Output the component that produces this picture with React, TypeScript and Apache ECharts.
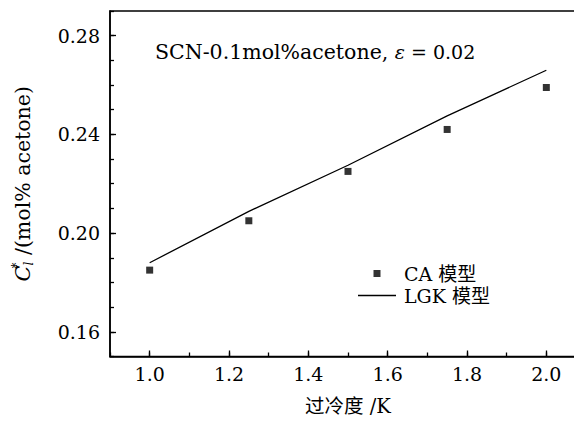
import React, { useEffect, useRef } from 'react';
import * as echarts from 'echarts';

const FONT = "'DejaVu Serif', 'Noto Sans CJK SC', serif";

// CA model points
const caX = [1.0, 1.25, 1.5, 1.75, 2.0];
const caY = [0.185, 0.205, 0.225, 0.242, 0.259];
// LGK model line
const lgkX = [1.0, 1.25, 1.5, 1.75, 2.0];
const lgkY = [0.188, 0.2088, 0.2275, 0.2475, 0.266];

const xTickLabels = ['1.0', '1.2', '1.4', '1.6', '1.8', '2.0'];
const yTickLabels = ['0.16', '0.20', '0.24', '0.28'];
const xTickSlots = ['0.9', '1.0', '1.1', '1.2', '1.3', '1.4', '1.5', '1.6', '1.7', '1.8', '1.9', '2.0', '2.1'];
const yTickSlots = ['0.15', '0.16', '0.17', '0.18', '0.19', '0.20', '0.21', '0.22', '0.23', '0.24', '0.25', '0.26', '0.27', '0.28', '0.29'];

export default function App() {
  const ref = useRef<HTMLDivElement>(null);
  useEffect(() => {
    const chart = echarts.init(ref.current!, null, { renderer: 'svg' });
    const axisLineStyle = { color: '#000', width: 1.5 };
    const tickStyle = { color: '#000', width: 1.3 };
    const option = {
      animation: false,
      backgroundColor: '#fff',
      title: {
        text: '{a|SCN-0.1mol%acetone, }{e|ε}{b| = 0.02}',
        left: 155,
        top: 42,
        padding: 0,
        textStyle: {
          fontFamily: FONT,
          fontSize: 20,
          fontWeight: 'normal',
          color: '#000',
          rich: {
            a: { fontFamily: FONT, fontSize: 20.5, color: '#000' },
            e: { fontFamily: FONT, fontSize: 19, color: '#000', fontStyle: 'italic' },
            b: { fontFamily: FONT, fontSize: 19, color: '#000' },
          },
        },
      },
      grid: {
        left: 110,
        top: 11,
        width: 476,
        height: 350,
        show: true,
        borderColor: '#000',
        borderWidth: 1.5,
        backgroundColor: 'transparent',
      },
      legend: {
        orient: 'vertical',
        left: 353,
        top: 259,
        itemWidth: 38,
        itemHeight: 7,
        itemGap: 3,
        symbolKeepAspect: true,
        textStyle: { fontFamily: FONT, fontSize: 19, color: '#000', padding: [0, 0, 0, 3] },
        data: [
          { name: 'CA 模型', icon: 'path://M0 0H10V10H0Z' },
          { name: 'LGK 模型', icon: 'path://M0 0H38V1.3H0Z' },
        ],
      },
      xAxis: [
        {
          type: 'value',
          min: 0.9,
          max: 2.1,
          interval: 0.1,
          axisLine: { show: true, onZero: false, lineStyle: axisLineStyle },
          axisTick: { show: true, inside: true, length: 4, lineStyle: tickStyle },
          axisLabel: {
            show: true,
            margin: 8,
            fontFamily: FONT,
            fontSize: 19,
            color: '#000',
            formatter: (v: number) => {
              const t = v.toFixed(1);
              return xTickLabels.includes(t) ? t : '';
            },
          },
          splitLine: { show: false },
          name: '过冷度 /K',
          nameLocation: 'middle',
          nameGap: 40,
          nameTextStyle: { fontFamily: FONT, fontSize: 19.5, color: '#000' },
        },
        {
          type: 'category',
          data: xTickSlots,
          boundaryGap: false,
          position: 'bottom',
          axisLine: { show: false },
          axisTick: {
            show: true,
            inside: true,
            length: 6,
            interval: (i: number, v: string) => xTickLabels.includes(v),
            lineStyle: tickStyle,
          },
          axisLabel: { show: false },
          splitLine: { show: false },
        },
      ],
      yAxis: [
        {
          type: 'value',
          min: 0.15,
          max: 0.29,
          interval: 0.01,
          axisLine: { show: true, onZero: false, lineStyle: axisLineStyle },
          axisTick: { show: true, inside: true, length: 4, lineStyle: tickStyle },
          axisLabel: {
            show: true,
            margin: 10,
            fontFamily: FONT,
            fontSize: 19,
            color: '#000',
            formatter: (v: number) => {
              const t = v.toFixed(2);
              return yTickLabels.includes(t) ? t : '';
            },
          },
          splitLine: { show: false },
          name: '{i|C}{sup|*}{sub|l}{t| /(mol% acetone)}',
          nameLocation: 'middle',
          nameGap: 75,
          nameRotate: 90,
          nameTextStyle: {
            fontFamily: FONT,
            fontSize: 19,
            color: '#000',
            rich: {
              i: { fontFamily: FONT, fontSize: 21, fontStyle: 'italic', color: '#000', lineHeight: 24 },
              sup: { fontFamily: FONT, fontSize: 12, color: '#000', verticalAlign: 'top', lineHeight: 12, width: 0 },
              sub: { fontFamily: FONT, fontSize: 12, fontStyle: 'italic', color: '#000', verticalAlign: 'bottom', lineHeight: 12 },
              t: { fontFamily: FONT, fontSize: 20.5, color: '#000', lineHeight: 24 },
            },
          },
        },
        {
          type: 'category',
          data: yTickSlots,
          boundaryGap: false,
          position: 'left',
          axisLine: { show: false },
          axisTick: {
            show: true,
            inside: true,
            length: 6,
            interval: (i: number, v: string) => yTickLabels.includes(v),
            lineStyle: tickStyle,
          },
          axisLabel: { show: false },
          splitLine: { show: false },
        },
      ],
      series: [
        {
          type: 'scatter',
          name: 'CA 模型',
          xAxisIndex: 0,
          yAxisIndex: 0,
          symbol: 'rect',
          symbolSize: 7,
          itemStyle: { color: '#000' },
          data: caX.map((x, i) => [x, caY[i]]),
        },
        {
          type: 'line',
          name: 'LGK 模型',
          xAxisIndex: 0,
          yAxisIndex: 0,
          symbol: 'none',
          showSymbol: false,
          lineStyle: { color: '#000', width: 1.3 },
          itemStyle: { color: '#000' },
          data: lgkX.map((x, i) => [x, lgkY[i]]),
        },
      ],
    };
    chart.setOption(option as any);
    return () => chart.dispose();
  }, []);
  return (
    <div
      style={{
        position: 'absolute',
        left: 0,
        top: 0,
        width: 574,
        height: 421,
        overflow: 'hidden',
        background: '#fff',
      }}
    >
      <div ref={ref} style={{ width: 600, height: 421 }} />
    </div>
  );
}
